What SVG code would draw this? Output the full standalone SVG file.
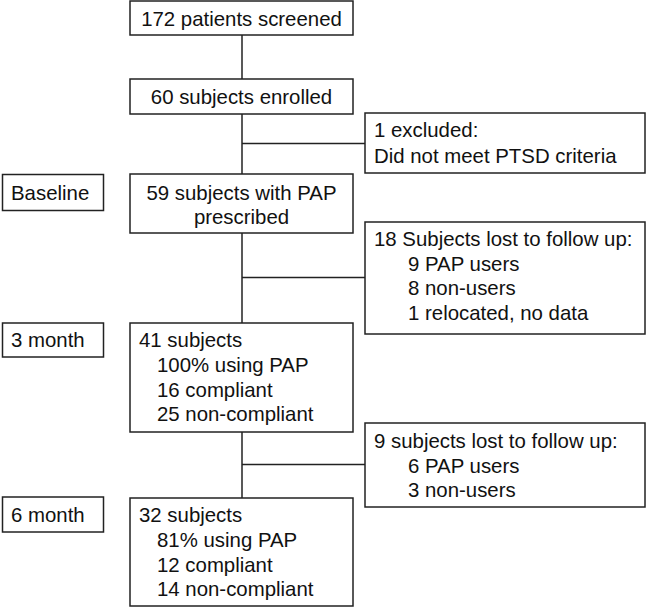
<svg xmlns="http://www.w3.org/2000/svg" width="646" height="608" viewBox="0 0 646 608">
<style>
rect{fill:#fff;stroke:#222;stroke-width:1.5}
text{font-family:"Liberation Sans",Arial,sans-serif;font-size:20.4px;fill:#111}
.c{text-anchor:middle}
#connectors line{stroke:#222;stroke-width:1.5}
</style>
<rect x="0" y="0" width="646" height="608" style="fill:#fff;stroke:none"/>
<g id="connectors">
<line x1="242" y1="35" x2="242" y2="79"/>
<line x1="242" y1="114" x2="242" y2="174"/>
<line x1="242" y1="233" x2="242" y2="323"/>
<line x1="242" y1="432" x2="242" y2="498"/>
<line x1="242" y1="143.5" x2="365" y2="143.5"/>
<line x1="242" y1="277.5" x2="365" y2="277.5"/>
<line x1="242" y1="464.5" x2="365" y2="464.5"/>
</g>
<g id="screened"><rect x="130" y="1" width="223" height="34"/><text class="c" x="241.5" y="26">172 patients screened</text></g>
<g id="enrolled"><rect x="130" y="79" width="223" height="35"/><text class="c" x="241.5" y="104">60 subjects enrolled</text></g>
<g id="excluded"><rect x="365" y="113" width="280" height="60"/><text x="374" y="137">1 excluded:</text><text x="374" y="163">Did not meet PTSD criteria</text></g>
<g id="baseline-label"><rect x="2.5" y="174.5" width="101" height="36"/><text x="11" y="200">Baseline</text></g>
<g id="prescribed"><rect x="130" y="174" width="223" height="59"/><text class="c" x="241.5" y="200">59 subjects with PAP</text><text class="c" x="241.5" y="224">prescribed</text></g>
<g id="lost18"><rect x="365" y="222" width="280" height="112"/><text x="374" y="246">18 Subjects lost to follow up:</text><text x="408" y="270.5">9 PAP users</text><text x="408" y="295">8 non-users</text><text x="408" y="319.5">1 relocated, no data</text></g>
<g id="month3-label"><rect x="2.5" y="323" width="101" height="34"/><text x="11" y="347">3 month</text></g>
<g id="month3"><rect x="130" y="323" width="223" height="109"/><text x="139" y="347">41 subjects</text><text x="157" y="372">100% using PAP</text><text x="157" y="397">16 compliant</text><text x="157" y="421">25 non-compliant</text></g>
<g id="lost9"><rect x="365" y="423" width="280" height="84"/><text x="374" y="448">9 subjects lost to follow up:</text><text x="408" y="472.5">6 PAP users</text><text x="408" y="497">3 non-users</text></g>
<g id="month6-label"><rect x="2.5" y="497" width="101" height="35"/><text x="11" y="522">6 month</text></g>
<g id="month6"><rect x="130" y="498" width="223" height="108"/><text x="139" y="522">32 subjects</text><text x="157" y="547">81% using PAP</text><text x="157" y="571.5">12 compliant</text><text x="157" y="596">14 non-compliant</text></g>
</svg>
